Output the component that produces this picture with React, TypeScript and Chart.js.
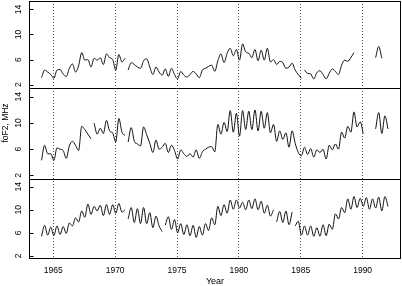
import React, { useEffect, useRef } from 'react';
import { Chart, registerables } from 'chart.js';

Chart.register(...registerables);

// Quarterly samples, first sample at startYear
const startYear = 1964.05;
const stepYears = 0.25;
const xTickYears = [1965, 1970, 1975, 1980, 1985, 1990];
const yTickValues = [2, 6, 10, 14];
const yTitle = 'foF2, MHz';
const xTitle = 'Year';

const topValues: (number | null)[] = [
  3.1, 4.3, 4.0, 3.6, 3.0, 4.3, 4.4, 3.7, 3.3, 4.6,
  5.3, 4.0, 5.0, 7.1, 5.9, 6.0, 4.8, 6.2, 5.9, 6.3,
  5.2, 6.9, 6.3, 6.0, 4.3, 6.8, 5.6, 6.2, 4.3, 5.5,
  5.2, 4.8, 4.6, 5.8, 6.1, 4.8, 3.6, 4.8, 4.0, 3.5,
  4.5, 3.3, 4.6, 3.6, 2.9, 4.1, 3.5, 3.2, 3.6, 4.1,
  3.7, 3.1, 4.3, 4.6, 4.9, 5.1, 4.1, 5.8, 6.9, 5.5,
  7.0, 7.8, 6.6, 7.6, 5.9, 8.5, 7.2, 7.0, 6.3, 7.6,
  5.8, 7.5, 5.9, 7.8, 5.6, 6.0, 5.2, 5.7, 5.5, 4.6,
  4.8, 5.4, 4.3, 3.6, 3.0, 4.3, 3.8, 3.7, 2.9, 3.9,
  4.2, 3.6, 2.9, 3.8, 4.5, 4.1, 3.6, 5.1, 5.9, 5.7,
  6.3, 7.1, null, null, null, null, null, null, 6.3, 8.1,
  6.2, null, null,
];
const topBreaks = [1970.95, 1985.17];

const middleValues: (number | null)[] = [
  4.3, 6.6, 5.3, 5.3, 4.3, 6.2, 6.0, 5.8, 4.6, 6.5,
  7.2, 6.6, 5.8, 9.5, 9.0, 8.3, 7.6, 10.0, 8.3, 9.2,
  8.4, 10.4, 8.8, 8.5, 7.1, 10.7, 8.6, 8.1, 7.1, 9.3,
  7.2, 6.8, 6.5, 9.4, 8.2, 6.9, 5.5, 7.4, 6.0, 6.3,
  6.9, 5.5, 6.6, 5.8, 4.5, 5.9, 5.3, 4.9, 5.3, 4.8,
  5.9, 4.6, 5.6, 6.0, 6.3, 6.4, 5.6, 9.8, 8.3, 10.1,
  8.7, 11.9, 8.6, 11.5, 8.0, 11.9, 9.0, 11.8, 9.0, 12.0,
  8.8, 11.8, 9.2, 11.6, 8.5, 9.8, 7.2, 8.8, 7.5, 8.5,
  6.3, 8.8, 6.9, 5.5, 5.0, 6.3, 5.2, 6.1, 4.8, 5.9,
  5.5, 6.0, 4.5, 6.6, 5.9, 6.8, 6.0, 8.6, 7.7, 9.5,
  8.6, 11.7, 9.4, 10.2, 8.4, null, null, null, 9.1, 11.6,
  8.4, 11.1, 9.1,
];
const middleBreaks = [1968.17, 1970.92];

const bottomValues: (number | null)[] = [
  5.4, 7.3, 5.6, 7.0, 5.5, 7.2, 5.7, 7.1, 5.9, 7.7,
  7.2, 8.6, 7.9, 9.8, 8.7, 11.0, 9.2, 10.6, 9.8, 10.8,
  9.0, 10.9, 9.2, 10.9, 9.4, 11.1, 9.6, 10.0, 8.4, 10.4,
  7.8, 10.2, 7.6, 10.4, 7.6, 9.5, 6.9, 8.9, 7.2, 6.2,
  7.3, 8.8, 6.6, 8.3, 6.0, 7.6, 5.7, 7.4, 5.5, 7.3,
  5.2, 7.1, 5.6, 7.6, 6.4, 8.6, 7.4, 10.6, 9.0, 10.9,
  9.4, 11.7, 10.1, 11.7, 10.3, 11.3, 10.0, 11.7, 10.2, 11.9,
  10.0, 11.5, 9.4, 10.8, 8.9, 10.0, 7.9, 9.7, 7.8, 9.8,
  7.4, 9.6, 7.2, 8.0, 5.6, 7.2, 5.6, 7.2, 5.4, 6.9,
  5.4, 7.4, 5.5, 7.5, 6.6, 9.3, 8.4, 10.4, 9.5, 11.9,
  10.1, 12.3, 10.4, 12.0, 10.6, 12.1, 10.1, 11.9, 10.3, 12.2,
  9.8, 12.3, 10.6,
];
const bottomBreaks = [1970.92, 1973.92, 1982.92, 1984.42];

const years = topValues.map((_, i) => Math.round((startYear + i * stepYears) * 100) / 100);

const FONT = '"Liberation Sans", Arial, Helvetica, sans-serif';
const Y_MIN = 1.45;
const Y_MAX = 15.35;

const toPoints = (vals: (number | null)[], breaks: number[]) => {
  const pts: { x: number; y: number | null }[] = vals.map((v, i) => ({ x: years[i], y: v }));
  breaks.forEach((b) => pts.push({ x: b, y: null }));
  return pts.sort((a, b) => a.x - b.x);
};

const framePlugin = {
  id: 'panelFrames',
  afterDraw(chart: any) {
    const ctx = chart.ctx as CanvasRenderingContext2D;
    const { left, right } = chart.chartArea;
    const sTop = chart.scales.yTop;
    const sMid = chart.scales.yMid;
    const sBot = chart.scales.yBot;
    ctx.save();
    ctx.strokeStyle = '#000';
    ctx.fillStyle = '#000';
    ctx.lineWidth = 1;
    ctx.setLineDash([]);
    const L = Math.round(left) + 0.5;
    const R = Math.round(right) - 0.5;
    const T = Math.round(sTop.top) + 0.5;
    const B = Math.round(sBot.bottom) - 0.5;
    ctx.strokeRect(L, T, R - L, B - T);
    [sMid.top, sBot.top].forEach((yy: number) => {
      const y = Math.round(yy) + 0.5;
      ctx.beginPath();
      ctx.moveTo(L, y);
      ctx.lineTo(R, y);
      ctx.stroke();
    });
    ctx.font = `8.5px ${FONT}`;
    ctx.textAlign = 'center';
    ctx.textBaseline = 'middle';
    [sTop, sMid, sBot].forEach((s: any) => {
      yTickValues.forEach((v) => {
        const y = Math.round(s.getPixelForValue(v)) + 0.5;
        ctx.beginPath();
        ctx.moveTo(L, y);
        ctx.lineTo(L + 4, y);
        ctx.stroke();
        ctx.save();
        ctx.translate(18.5, s.getPixelForValue(v));
        ctx.rotate(-Math.PI / 2);
        ctx.fillText(String(v), 0, 0);
        ctx.restore();
      });
    });
    // y title on the middle panel
    ctx.save();
    ctx.translate(5.8, 123);
    ctx.rotate(-Math.PI / 2);
    ctx.fillText(yTitle, 0, 0);
    ctx.restore();
    // x title
    ctx.font = `9px ${FONT}`;
    ctx.fillText(xTitle, (left + right) / 2, 281.5);
    ctx.restore();
  },
};

const lineStyle = {
  borderColor: '#111',
  borderWidth: 1,
  pointRadius: 0,
  pointHoverRadius: 0,
  cubicInterpolationMode: 'monotone',
  fill: false,
  spanGaps: false,
};

const yAxis = (weight: number) => ({
  type: 'linear' as const,
  position: 'left' as const,
  stack: 'panels',
  stackWeight: weight,
  min: Y_MIN,
  max: Y_MAX,
  ticks: { display: false },
  grid: { display: false },
  border: { display: false },
  afterFit: (s: any) => {
    s.width = 29;
  },
});

export default function App() {
  const ref = useRef<HTMLCanvasElement>(null);
  useEffect(() => {
    if (!ref.current) return;
    const chart = new Chart(ref.current, {
      type: 'line',
      data: {
        datasets: [
          { ...lineStyle, label: 'top', data: toPoints(topValues, topBreaks), yAxisID: 'yTop' },
          { ...lineStyle, label: 'middle', data: toPoints(middleValues, middleBreaks), yAxisID: 'yMid' },
          { ...lineStyle, label: 'bottom', data: toPoints(bottomValues, bottomBreaks), yAxisID: 'yBot' },
        ] as any,
      },
      options: {
        animation: false,
        responsive: false,
        devicePixelRatio: 1,
        layout: { padding: { top: 1, right: 1, left: 0, bottom: 0 } },
        plugins: { legend: { display: false }, tooltip: { enabled: false } },
        events: [],
        scales: {
          x: {
            type: 'linear',
            min: 1963.04,
            max: 1993.1,
            afterBuildTicks: (s: any) => {
              s.ticks = xTickYears.map((v) => ({ value: v }));
            },
            ticks: {
              font: { family: FONT, size: 8.5 },
              color: '#000',
              padding: 6.6,
              maxRotation: 0,
              minRotation: 0,
              autoSkip: false,
              callback: (v: any) => String(v),
            },
            grid: { color: '#555', lineWidth: 1, drawTicks: false },
            border: { display: false, dash: [1, 2] },
            afterFit: (s: any) => {
              s.height = 27;
            },
          },
          yBot: yAxis(80),
          yMid: yAxis(91),
          yTop: yAxis(87),
        } as any,
      },
      plugins: [framePlugin],
    });
    return () => chart.destroy();
  }, []);
  return (
    <div style={{ position: 'fixed', left: 0, top: 0, width: 402, height: 286, background: '#fff' }}>
      <canvas ref={ref} width={402} height={286} style={{ display: 'block', width: 402, height: 286 }} />
    </div>
  );
}
